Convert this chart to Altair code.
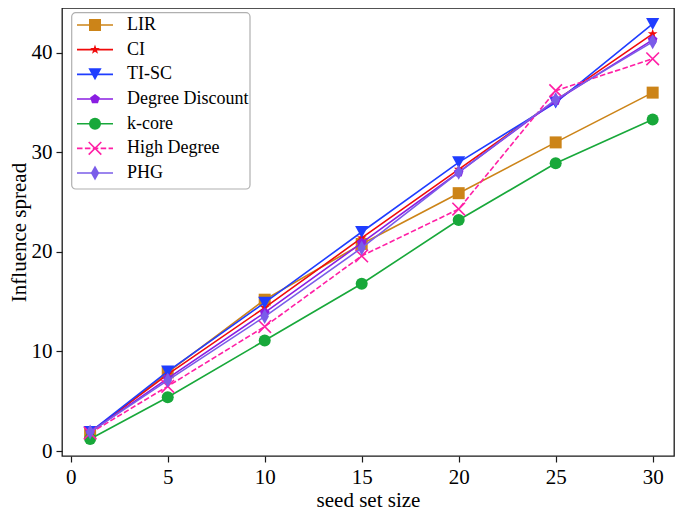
import math
import altair as alt
import pandas as pd

# ---------------- data ----------------
x_vals = [1, 5, 10, 15, 20, 25, 30]
series_names = ["LIR", "CI", "TI-SC", "Degree Discount", "k-core", "High Degree", "PHG"]
lir = [1.8, 7.9, 15.2, 20.8, 25.9, 31.0, 36.0]
ci = [1.9, 7.7, 14.4, 21.4, 28.3, 35.2, 41.9]
tisc = [1.9, 8.0, 14.9, 22.0, 29.0, 35.0, 42.9]
degree_discount = [1.9, 7.3, 13.9, 20.9, 28.0, 35.2, 41.3]
kcore = [1.2, 5.4, 11.1, 16.8, 23.2, 28.9, 33.3]
high_degree = [1.8, 6.5, 12.5, 19.6, 24.3, 36.2, 39.4]
phg = [1.9, 7.1, 13.5, 20.4, 28.0, 35.3, 41.1]
x_ticks = [0, 5, 10, 15, 20, 25, 30]
y_ticks = [0, 10, 20, 30, 40]

series_values = [lir, ci, tisc, degree_discount, kcore, high_degree, phg]

rows = []
for name, vals in zip(series_names, series_values):
    for xv, yv in zip(x_vals, vals):
        rows.append({"series": name, "x": xv, "value": yv})
df = pd.DataFrame(rows)

# ---------------- styles ----------------
def star_path(ro, ri):
    pts = []
    for k in range(10):
        a = -math.pi / 2 + k * math.pi / 5
        r = ro if k % 2 == 0 else ri
        pts.append((r * math.cos(a), r * math.sin(a)))
    return "M" + "L".join(f"{px:.3f},{py:.3f}" for px, py in pts) + "Z"

def poly_path(r, n):
    pts = []
    for k in range(n):
        a = -math.pi / 2 + k * 2 * math.pi / n
        pts.append((r * math.cos(a), r * math.sin(a)))
    return "M" + "L".join(f"{px:.3f},{py:.3f}" for px, py in pts) + "Z"

colors = ["#cc8418", "#f00a0a", "#1f3dff", "#8a1ee2", "#18a83a", "#ff1fa5", "#7a5ce9"]
shapes = [
    "M-1,-1L1,-1L1,1L-1,1Z",
    star_path(0.85, 0.34),
    "M-1.1,-1L1.1,-1L0,1Z",
    poly_path(0.85, 5),
    "circle",
    "M-1.05,-1.05L1.05,1.05M-1.05,1.05L1.05,-1.05",
    "M0,-1.25L0.7,0L0,1.25L-0.7,0Z",
]
filled = [True, True, True, True, True, False, True]
dashes = [None, None, None, None, None, [5.5, 2.4], None]

FONT = "Liberation Serif"

x_enc = alt.X(
    "x:Q",
    scale=alt.Scale(domain=[-0.45, 31.1], nice=False, zero=False),
    axis=alt.Axis(values=x_ticks, title="seed set size", format="d"),
)
y_enc = alt.Y(
    "value:Q",
    scale=alt.Scale(domain=[-0.5, 44.5], nice=False, zero=False),
    axis=alt.Axis(values=y_ticks, title="Influence spread", format="d"),
)

base = alt.Chart(df)
layers = []
for i, name in enumerate(series_names):
    line_kwargs = dict(color=colors[i], strokeWidth=1.6, clip=True)
    if dashes[i]:
        line_kwargs["strokeDash"] = dashes[i]
    line = base.transform_filter(alt.datum.series == name).mark_line(**line_kwargs).encode(x=x_enc, y=y_enc)
    pt_kwargs = dict(shape=shapes[i], size=144, filled=filled[i], color=colors[i], opacity=1)
    if not filled[i]:
        pt_kwargs["strokeWidth"] = 1.6
    pts = base.transform_filter(alt.datum.series == name).mark_point(**pt_kwargs).encode(x=x_enc, y=y_enc)
    layers += [line, pts]

# ---------------- legend (drawn manually) ----------------
one = alt.Chart(pd.DataFrame({"k": [0]}))
legend_layers = [
    one.mark_rect(fill="white", stroke="#b0b0b0", strokeWidth=1.2, cornerRadius=4).encode(
        x=alt.value(9.7), x2=alt.value(188), y=alt.value(4.7), y2=alt.value(181)
    )
]
for i, name in enumerate(series_names):
    yy = 17 + 24.67 * i
    rk = dict(color=colors[i], strokeWidth=1.6)
    if dashes[i]:
        rk["strokeDash"] = dashes[i]
    legend_layers.append(
        one.mark_rule(**rk).encode(x=alt.value(15), x2=alt.value(51), y=alt.value(yy))
    )
    pk = dict(shape=shapes[i], size=144, filled=filled[i], color=colors[i], opacity=1)
    if not filled[i]:
        pk["strokeWidth"] = 1.6
    legend_layers.append(one.mark_point(**pk).encode(x=alt.value(33), y=alt.value(yy)))
    legend_layers.append(
        one.mark_text(align="left", baseline="middle", font=FONT, fontSize=18, color="black").encode(
            x=alt.value(65), y=alt.value(yy), text=alt.value(name)
        )
    )

chart = (
    alt.layer(*layers, *legend_layers)
    .properties(
        width=612,
        height=448,
        padding={"left": 54, "top": 0, "right": 2, "bottom": 56},
        autosize=alt.AutoSizeParams(type="none"),
        background="white",
    )
    .configure_view(stroke="#1a1a1a", strokeWidth=1.3)
    .configure_axis(
        grid=False,
        domain=False,
        ticks=True,
        tickColor="#1a1a1a",
        tickWidth=1.2,
        tickSize=6,
        labelFont=FONT,
        labelFontSize=21,
        labelColor="black",
        titleFont=FONT,
        titleFontSize=21,
        titleFontWeight="normal",
        titleColor="black",
        labelPadding=4,
    )
    .configure_axisX(titlePadding=2)
    .configure_axisY(titlePadding=2)
)

chart.save("out.html", embed_options={"renderer": "svg", "actions": False})
